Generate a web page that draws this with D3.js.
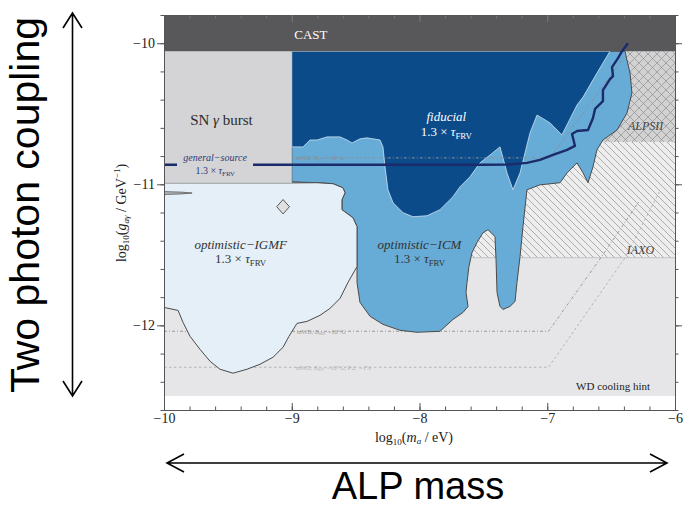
<!DOCTYPE html>
<html>
<head>
<meta charset="utf-8">
<script src="https://cdn.jsdelivr.net/npm/d3@7"></script>
<style>
  html, body { margin: 0; padding: 0; background: #fff; }
  svg { display: block; }
  .serif { font-family: "Liberation Serif", "DejaVu Serif", serif; }
</style>
</head>
<body>
<svg id="chart" width="683" height="508"></svg>
<script>
// ---- data (log10 m_a / eV , log10 g / GeV^-1) ----
const xDomain = [-10, -6];
const yDomain = [-12.6, -9.8];
const xMajorTicks = [-10, -9, -8, -7, -6];
const yMajorTicks = [-12, -11, -10];

const castLimit = -10.057;              // CAST excludes everything above
const snBox = { x0: -10, x1: -9, y0: -10.99, y1: -10.057 };
const wdBand = { x0: -10, x1: -6, y0: -12.5, y1: -10.057 };
const alpsBox = { x0: -6.75, x1: -6, y0: -10.70, y1: -10.057 };
const iaxoBox = { x0: -7.59, x1: -6, y0: -11.52, y1: -10.70 };

const fiducial = [
  [-9.0, -10.057], [-6.509, -10.057], [-6.611, -10.212], [-6.720, -10.382], [-6.767, -10.438],
  [-6.885, -10.650], [-6.978, -10.565], [-7.080, -10.509], [-7.135, -10.636], [-7.213, -10.919],
  [-7.268, -11.039], [-7.315, -10.919], [-7.370, -10.735], [-7.448, -10.792], [-7.526, -10.848],
  [-7.605, -10.947], [-7.683, -11.018], [-7.738, -11.088], [-7.840, -11.180], [-7.941, -11.223],
  [-8.051, -11.230], [-8.129, -11.201], [-8.207, -11.131], [-8.247, -11.039], [-8.270, -10.876],
  [-8.286, -10.735], [-8.309, -10.686], [-8.411, -10.671], [-8.466, -10.678], [-8.528, -10.707],
  [-8.568, -10.686], [-8.622, -10.664], [-8.724, -10.664], [-8.802, -10.686], [-8.857, -10.686],
  [-8.912, -10.735], [-9.0, -10.735]
];

const optimisticICM = [
  [-9.0, -10.057], [-6.391, -10.057], [-6.376, -10.120], [-6.352, -10.212], [-6.337, -10.353],
  [-6.376, -10.495], [-6.454, -10.615], [-6.564, -10.686], [-6.611, -10.756], [-6.642, -10.876],
  [-6.681, -10.989], [-6.720, -10.919], [-6.767, -10.848], [-6.845, -10.919], [-6.900, -10.989],
  [-7.057, -11.004], [-7.159, -11.039], [-7.190, -11.300], [-7.213, -11.512], [-7.237, -11.696],
  [-7.252, -11.830], [-7.292, -11.866], [-7.346, -11.887], [-7.370, -11.866], [-7.393, -11.767],
  [-7.401, -11.534], [-7.409, -11.371], [-7.464, -11.322], [-7.503, -11.343], [-7.550, -11.413],
  [-7.589, -11.484], [-7.613, -11.583], [-7.628, -11.696], [-7.636, -11.767], [-7.620, -11.866],
  [-7.659, -11.908], [-7.738, -11.958], [-7.840, -12.042], [-8.020, -12.049], [-8.153, -12.035],
  [-8.286, -11.993], [-8.387, -11.936], [-8.466, -11.837], [-8.489, -11.696], [-8.489, -11.583],
  [-8.489, -11.300], [-8.521, -11.237], [-8.607, -11.180], [-8.607, -11.110], [-8.583, -11.060],
  [-8.599, -11.025], [-8.677, -10.996], [-8.802, -10.989], [-9.0, -10.982]
];

const optimisticIGMF = [
  [-10.0, -10.99], [-9.0, -10.99], [-8.802, -10.989], [-8.677, -10.996], [-8.599, -11.025],
  [-8.583, -11.060], [-8.607, -11.110], [-8.607, -11.180], [-8.521, -11.237], [-8.489, -11.300],
  [-8.489, -11.583], [-8.560, -11.696], [-8.622, -11.809], [-8.701, -11.880], [-8.779, -11.929],
  [-8.881, -11.972], [-8.959, -11.986], [-9.022, -12.078], [-9.068, -12.155], [-9.147, -12.226],
  [-9.249, -12.276], [-9.350, -12.311], [-9.460, -12.339], [-9.562, -12.311], [-9.640, -12.254],
  [-9.718, -12.170], [-9.796, -12.078], [-9.851, -11.979], [-9.890, -11.894], [-10.0, -11.873]
];

// small isolated islands
const sliver = [[-10.0, -11.052], [-9.86, -11.056], [-9.78, -11.062], [-9.86, -11.068], [-10.0, -11.072]];
const diamond = [[-9.068, -11.108], [-9.018, -11.159], [-9.068, -11.210], [-9.118, -11.159]];

// general-source bound
const generalSource = [
  [-10.0, -10.862], [-9.0, -10.862], [-8.0, -10.862], [-7.5, -10.862], [-7.315, -10.860],
  [-7.159, -10.848], [-7.057, -10.827], [-6.955, -10.792], [-6.845, -10.756], [-6.783, -10.728],
  [-6.806, -10.643], [-6.767, -10.622], [-6.681, -10.615], [-6.642, -10.530], [-6.626, -10.466],
  [-6.564, -10.410], [-6.564, -10.332], [-6.509, -10.254], [-6.485, -10.233], [-6.493, -10.170],
  [-6.446, -10.106], [-6.415, -10.057], [-6.368, -10.0]
];

// magnetic white-dwarf polarisation hints
const mwd8 = [[-9.0, -10.813], [-6.978, -10.813], [-6.39, -10.09]];
const mwd9 = [[-10.0, -12.042], [-6.99, -12.042], [-6.58, -11.52], [-6.28, -11.12]];
const mwd9pl = [[-10.0, -12.297], [-6.99, -12.297], [-6.39, -11.52], [-6.12, -11.05]];

// ---- scales ----
const svg = d3.select("#chart");
const x = d3.scaleLinear().domain(xDomain).range([164, 675]);
const y = d3.scaleLinear().domain(yDomain).range([410, 15]);
const line = d3.line().x(d => x(d[0])).y(d => y(d[1]));
const area = d3.line().x(d => x(d[0])).y(d => y(d[1])).curve(d3.curveLinearClosed);
const rect = (g, b, fill) => g.append("rect")
  .attr("x", x(b.x0)).attr("y", y(b.y1))
  .attr("width", x(b.x1) - x(b.x0)).attr("height", y(b.y0) - y(b.y1))
  .attr("fill", fill);

// ---- patterns ----
const defs = svg.append("defs");
defs.append("clipPath").attr("id", "plotClip").append("rect")
  .attr("x", x(-10)).attr("y", y(-9.8)).attr("width", x(-6) - x(-10)).attr("height", y(-12.6) - y(-9.8));

const pI = defs.append("pattern").attr("id", "hatchIAXO").attr("patternUnits", "userSpaceOnUse")
  .attr("width", 7).attr("height", 7);
pI.append("rect").attr("width", 7).attr("height", 7).attr("fill", "#ededee");
pI.append("path").attr("d", "M0,0 L7,7 M-7,0 L0,7 M0,-7 L7,0 M7,0 L14,7 M0,7 L7,14")
  .attr("stroke", "#9c9c9c").attr("stroke-width", 0.8);

const pA = defs.append("pattern").attr("id", "hatchALPS").attr("patternUnits", "userSpaceOnUse")
  .attr("width", 9).attr("height", 9);
pA.append("rect").attr("width", 9).attr("height", 9).attr("fill", "#d2d2d3");
pA.append("path").attr("d", "M0,0 L9,9 M-9,0 L0,9 M0,-9 L9,0 M9,0 L0,9 M0,0 L-9,9 M9,9 L18,0 M18,9 L9,18")
  .attr("stroke", "#8f8f90").attr("stroke-width", 0.7);

// ---- plot body ----
const plot = svg.append("g").attr("clip-path", "url(#plotClip)");

rect(plot, wdBand, "#e6e6e8");
rect(plot, iaxoBox, "url(#hatchIAXO)");
plot.append("line").attr("x1", x(iaxoBox.x0)).attr("x2", x(iaxoBox.x1))
  .attr("y1", y(iaxoBox.y0)).attr("y2", y(iaxoBox.y0)).attr("stroke", "#bdbdbd").attr("stroke-width", 0.8);
rect(plot, alpsBox, "url(#hatchALPS)");

// white-dwarf hint lines
const dashLine = (pts, color, dash) => plot.append("path").attr("d", line(pts))
  .attr("fill", "none").attr("stroke", color).attr("stroke-width", 1).attr("stroke-dasharray", dash);
dashLine(mwd9, "#9a9a9c", "3,2,1,2");
dashLine(mwd9pl, "#b4b4b6", "2.5,2.5");

plot.append("path").attr("d", area(optimisticICM))
  .attr("fill", "#67acd6").attr("stroke", "#4a4a4a").attr("stroke-width", 1).attr("stroke-linejoin", "round");
plot.append("path").attr("d", area(optimisticIGMF))
  .attr("fill", "#e4eff7").attr("stroke", "#4a4a4a").attr("stroke-width", 1).attr("stroke-linejoin", "round");
plot.append("path").attr("d", area(fiducial))
  .attr("fill", "#0b4b8a").attr("stroke", "#cfe3f3").attr("stroke-width", 0.8).attr("stroke-linejoin", "round");

dashLine(mwd8, "#8a8f96", "3,2,1,2");

plot.append("path").attr("d", area(sliver)).attr("fill", "#b8b8ba").attr("stroke", "#555").attr("stroke-width", 0.8);
plot.append("path").attr("d", area(diamond)).attr("fill", "#e0e0e0").attr("stroke", "#555").attr("stroke-width", 1);

rect(plot, snBox, "#d4d4d6");
rect(plot, { x0: -10, x1: -6, y0: castLimit, y1: -9.8 }, "#58585a");

// general-source bound, broken around its label
plot.append("path").attr("d", line(generalSource))
  .attr("fill", "none").attr("stroke", "#1b2b6b").attr("stroke-width", 2.4).attr("stroke-linejoin", "round");
plot.append("rect").attr("x", 177).attr("y", y(-10.80)).attr("width", 76).attr("height", 24).attr("fill", "#d4d4d6");

// ---- in-plot text ----
const txt = (xx, yy, s, opts = {}) => {
  const t = svg.append("text").attr("class", "serif").attr("x", xx).attr("y", yy)
    .attr("text-anchor", opts.anchor || "middle").attr("font-size", opts.size || 13)
    .attr("fill", opts.fill || "#333").attr("font-style", opts.italic ? "italic" : "normal");
  t.text(s);
  return t;
};
const tauLine = (xx, yy, size, fill) => {
  const t = txt(xx, yy, "1.3 × ", { size, fill });
  t.append("tspan").attr("font-style", "italic").text("τ");
  t.append("tspan").attr("font-size", size * 0.68).attr("dy", size * 0.22).text("FRV");
  return t;
};

txt(x(-8.85), 39, "CAST", { fill: "#ffffff", size: 13 });
const sn = txt(x(-9.55), 125, "SN ", { size: 15, fill: "#2a2a2a" });
sn.append("tspan").attr("font-style", "italic").text("γ");
sn.append("tspan").text(" burst");

txt(x(-9.6), 161, "general−source", { italic: true, size: 10, fill: "#2a3a7a" });
tauLine(x(-9.6), 174, 10, "#2a3a7a");

txt(x(-7.79), 121, "fiducial", { italic: true, size: 13, fill: "#ffffff" });
tauLine(x(-7.79), 136, 13, "#ffffff");

txt(x(-9.4), 249, "optimistic−IGMF", { italic: true, size: 13, fill: "#333" });
tauLine(x(-9.4), 263, 13, "#333");

txt(x(-8.0), 249, "optimistic−ICM", { italic: true, size: 13, fill: "#333" });
tauLine(x(-8.0), 263, 13, "#333");

txt(x(-6.23), 130, "ALPSII", { italic: true, size: 12, fill: "#444" });
txt(x(-6.27), 254, "IAXO", { italic: true, size: 12, fill: "#444" });
txt(x(-6.485), 390, "WD cooling hint", { size: 11, fill: "#222" });

// white-dwarf line annotations
const small = (xx, yy, main, b, tail, fill) => {
  const t = txt(xx, yy, main, { anchor: "start", size: 6, fill });
  t.append("tspan").attr("font-style", "italic").text("B");
  t.append("tspan").attr("font-size", 4).attr("dy", 1).text("WD");
  t.append("tspan").attr("dy", -1).text(b);
  if (tail) t.append("tspan").text(tail);
};
small(296, 160, "mWD, ", " ∼10⁸ G", "", "#8a8f96");
small(297, 334, "mWD, ", " ∼10⁹ G", "", "#9a9a9c");
small(296, 370, "mWD, ", " ∼10⁹ G, P⊥ ∼1%", "", "#b4b4b6");

// ---- axes ----
const fmt = d3.format("d");
const minor = d3.range(-10, -5.99, 0.2).map(v => +v.toFixed(1));
const minorY = d3.range(-12.6, -9.79, 0.2).map(v => +v.toFixed(1));
const styleAxis = g => {
  g.selectAll("path.domain").attr("stroke", "#555");
  g.selectAll(".tick line").attr("stroke", "#555");
  g.selectAll("text").attr("class", "serif").attr("font-size", 14).attr("fill", "#222");
};

svg.append("g").attr("transform", `translate(0,${y(-12.6)})`)
  .call(d3.axisBottom(x).tickValues(minor).tickSizeInner(-3.5).tickSizeOuter(0).tickFormat(""))
  .call(styleAxis);
svg.append("g").attr("transform", `translate(0,${y(-12.6)})`)
  .call(d3.axisBottom(x).tickValues(xMajorTicks).tickSizeInner(-7).tickSizeOuter(0).tickPadding(3).tickFormat(fmt))
  .call(styleAxis);
svg.append("g").attr("transform", `translate(0,${y(-9.8)})`)
  .call(d3.axisTop(x).tickValues(minor).tickSizeInner(-3.5).tickSizeOuter(0).tickFormat(""))
  .call(styleAxis).selectAll(".tick line").attr("stroke", "#777");
svg.append("g").attr("transform", `translate(0,${y(-9.8)})`)
  .call(d3.axisTop(x).tickValues(xMajorTicks).tickSizeInner(-7).tickSizeOuter(0).tickFormat(""))
  .call(styleAxis).selectAll(".tick line").attr("stroke", "#777");
svg.append("g").attr("transform", `translate(${x(-10)},0)`)
  .call(d3.axisLeft(y).tickValues(minorY).tickSizeInner(3.5).tickSizeOuter(0).tickFormat(""))
  .call(styleAxis);
svg.append("g").attr("transform", `translate(${x(-10)},0)`)
  .call(d3.axisLeft(y).tickValues(yMajorTicks).tickSizeInner(7).tickSizeOuter(0).tickPadding(2).tickFormat(fmt))
  .call(styleAxis);
svg.append("g").attr("transform", `translate(${x(-6)},0)`)
  .call(d3.axisRight(y).tickValues(minorY).tickSizeInner(3.5).tickSizeOuter(0).tickFormat(""))
  .call(styleAxis);
svg.append("g").attr("transform", `translate(${x(-6)},0)`)
  .call(d3.axisRight(y).tickValues(yMajorTicks).tickSizeInner(7).tickSizeOuter(0).tickFormat(""))
  .call(styleAxis);

// axis titles
const xt = svg.append("text").attr("class", "serif").attr("x", 414).attr("y", 442)
  .attr("text-anchor", "middle").attr("font-size", 14).attr("fill", "#222");
xt.append("tspan").text("log");
xt.append("tspan").attr("font-size", 9).attr("dy", 3).text("10");
xt.append("tspan").attr("dy", -3).text("(");
xt.append("tspan").attr("font-style", "italic").text("m");
xt.append("tspan").attr("font-size", 9).attr("dy", 2).attr("font-style", "italic").text("a");
xt.append("tspan").attr("dy", -2).text("  /  eV)");

const yt = svg.append("text").attr("class", "serif")
  .attr("transform", "translate(126,213) rotate(-90)")
  .attr("text-anchor", "middle").attr("font-size", 14).attr("fill", "#222");
yt.append("tspan").text("log");
yt.append("tspan").attr("font-size", 9).attr("dy", 3).text("10");
yt.append("tspan").attr("dy", -3).text("(");
yt.append("tspan").attr("font-style", "italic").text("g");
yt.append("tspan").attr("font-size", 9).attr("dy", 3).attr("font-style", "italic").text("aγ");
yt.append("tspan").attr("dy", -3).text("  /  GeV");
yt.append("tspan").attr("font-size", 9).attr("dy", -6).text("−1");
yt.append("tspan").attr("dy", 6).text(")");

// ---- outer annotations ----
const sans = "'Liberation Sans', Arial, sans-serif";
svg.append("text").attr("transform", "translate(39,205) rotate(-90)")
  .attr("text-anchor", "middle").attr("font-family", sans).attr("font-size", 41).attr("fill", "#000")
  .text("Two photon coupling");
svg.append("text").attr("x", 418).attr("y", 499)
  .attr("text-anchor", "middle").attr("font-family", sans).attr("font-size", 38).attr("fill", "#000")
  .text("ALP mass");

const arrow = svg.append("g").attr("fill", "none").attr("stroke", "#000").attr("stroke-width", 1.6);
arrow.append("path").attr("d", "M72.5,13 V396 M63,28 L72.5,13 L82,28 M63,381 L72.5,396 L82,381");
arrow.append("path").attr("d", "M167,463 H667 M184,454 L167,463 L184,472 M650,454 L667,463 L650,472");
</script>
</body>
</html>
